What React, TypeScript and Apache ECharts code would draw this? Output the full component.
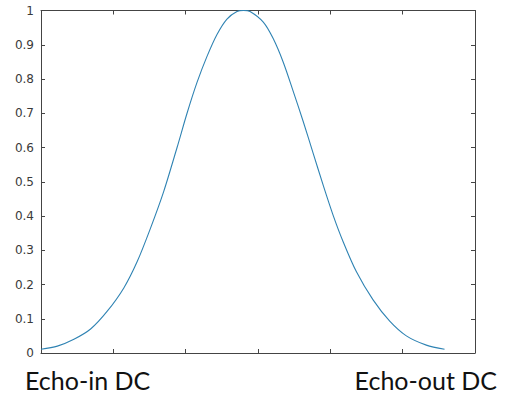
import React, { useEffect, useRef } from "react";
import * as echarts from "echarts";

// Sampled response curve (x in arbitrary position units, y normalised 0..1)
const curveX = [
  0, 0.226, 0.455, 0.686, 0.916, 1.145, 1.33, 1.513, 1.697, 1.881, 2.019,
  2.157, 2.295, 2.433, 2.571, 2.709, 2.8, 2.89, 3.073, 3.21, 3.349, 3.487,
  3.625, 3.763, 3.901, 4.039, 4.177, 4.361, 4.591, 4.821, 5.051, 5.327, 5.579,
];
const curveY = [
  0.011, 0.02, 0.04, 0.07, 0.122, 0.19, 0.267, 0.364, 0.472, 0.6, 0.7,
  0.79, 0.866, 0.93, 0.975, 0.997, 1.0, 0.997, 0.966, 0.918, 0.849, 0.764,
  0.676, 0.583, 0.49, 0.402, 0.325, 0.237, 0.155, 0.093, 0.05, 0.023, 0.011,
];
const yTicks = ["0", "0.1", "0.2", "0.3", "0.4", "0.5", "0.6", "0.7", "0.8", "0.9", "1"];
const endLabels = ["Echo-in DC", "Echo-out DC"];

const axisColor = "#444444";

export default function App() {
  const ref = useRef<HTMLDivElement>(null);

  useEffect(() => {
    if (!ref.current) return;
    const chart = echarts.init(ref.current, undefined, { renderer: "svg" });

    const boxAxis = {
      axisLine: { show: true, onZero: false, lineStyle: { color: axisColor, width: 1 } },
      axisTick: { show: true, inside: true, length: 4, lineStyle: { color: axisColor } },
      splitLine: { show: false },
    };

    chart.setOption({
      animation: false,
      backgroundColor: "#ffffff",
      grid: { left: 41, top: 10.5, right: 35, bottom: 44, containLabel: false },
      xAxis: [
        {
          type: "value",
          min: 0,
          max: 6,
          interval: 1,
          position: "bottom",
          axisLabel: { show: false },
          ...boxAxis,
        },
        {
          type: "value",
          min: 0,
          max: 6,
          interval: 1,
          position: "top",
          axisLabel: { show: false },
          ...boxAxis,
        },
      ],
      yAxis: [
        {
          type: "value",
          min: 0,
          max: 1,
          interval: 0.1,
          position: "left",
          axisLabel: {
            show: true,
            margin: 7,
            color: "#3a3a3a",
            fontFamily: "DejaVu Sans",
            fontSize: 12,
            formatter: (v: number) => yTicks[Math.round(v * 10)] ?? "",
          },
          ...boxAxis,
        },
        {
          type: "value",
          min: 0,
          max: 1,
          interval: 0.1,
          position: "right",
          axisLabel: { show: false },
          ...boxAxis,
        },
      ],
      series: [
        {
          type: "line",
          data: curveX.map((x, i) => [x, curveY[i]]),
          smooth: 0.3,
          showSymbol: false,
          lineStyle: { color: "#2f83b3", width: 1.1 },
        },
      ],
      graphic: [
        {
          type: "text",
          left: 25,
          top: 367,
          style: {
            text: endLabels[0],
            fontFamily: "Lato",
            fontSize: 25,
            fill: "#111111",
          },
        },
        {
          type: "text",
          right: 13,
          top: 367,
          style: {
            text: endLabels[1],
            fontFamily: "Lato",
            fontSize: 25,
            fill: "#111111",
          },
        },
      ],
    });

    return () => chart.dispose();
  }, []);

  return <div ref={ref} style={{ width: 510, height: 397, position: "absolute", left: 0, top: 0 }} />;
}
